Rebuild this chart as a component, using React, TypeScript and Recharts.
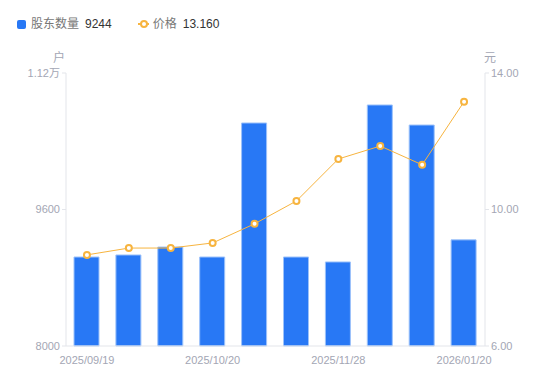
import React from "react";
import {
  ComposedChart,
  Bar,
  Line,
  XAxis,
  YAxis,
} from "recharts";

const dates = [
  "2025/09/19",
  "2025/09/30",
  "2025/10/10",
  "2025/10/20",
  "2025/10/31",
  "2025/11/10",
  "2025/11/28",
  "2025/12/10",
  "2025/12/31",
  "2026/01/20",
];
const holders = [9043, 9067, 9160, 9043, 10614, 9043, 8985, 10825, 10590, 9244];
const prices = [8.67, 8.87, 8.87, 9.02, 9.58, 10.25, 11.48, 11.86, 11.31, 13.16];

const leftTicks = [8000, 9600, 11200];
const rightTicks = [6, 10, 14];

const BLUE = "#2878f5";
const ORANGE = "#f7b43f";
const TICK = "#a3a6b4";
const AXIS = "#e3e5ea";
const FONT = "'Liberation Sans', 'Noto Sans CJK SC', sans-serif";

const data = dates.map((d, i) => ({ date: d, holders: holders[i], price: prices[i] }));

const fmtLeft = (v: number) => (v >= 10000 ? (v / 10000).toFixed(2) + "万" : String(v));

export default function App() {
  const last = data.length - 1;
  return (
    <div
      style={{
        position: "absolute",
        left: 0,
        top: 0,
        width: 550,
        height: 381,
        fontFamily: FONT,
        background: "#fff",
      }}
    >
      {/* legend */}
      <div
        style={{
          position: "absolute",
          top: 15,
          left: 17,
          display: "flex",
          alignItems: "center",
          fontSize: 12,
          lineHeight: "18px",
        }}
      >
        <span style={{ width: 9, height: 9, background: BLUE, borderRadius: 2, marginRight: 5 }} />
        <span style={{ color: "#777" }}>股东数量</span>
        <span style={{ color: "#333", marginLeft: 6 }}>{holders[last]}</span>
        <span style={{ position: "relative", width: 11, height: 10, marginLeft: 26, marginRight: 4 }}>
          <span style={{ position: "absolute", left: 0, top: 4, width: 11, height: 2, background: ORANGE }} />
          <span
            style={{
              position: "absolute",
              left: 2,
              top: 1,
              width: 4,
              height: 4,
              borderRadius: "50%",
              border: `2px solid ${ORANGE}`,
              background: "#fff",
            }}
          />
        </span>
        <span style={{ color: "#777" }}>价格</span>
        <span style={{ color: "#333", marginLeft: 6 }}>{prices[last].toFixed(3)}</span>
      </div>
      {/* unit labels */}
      <div style={{ position: "absolute", left: 53, top: 48, fontSize: 12, color: TICK }}>户</div>
      <div style={{ position: "absolute", left: 484, top: 48, fontSize: 12, color: TICK }}>元</div>

      <ComposedChart
        width={550}
        height={381}
        data={data}
        margin={{ top: 73, right: 0, left: 0, bottom: 0 }}
        barCategoryGap={0}
        style={{ fontFamily: FONT }}
      >
        <XAxis
          dataKey="date"
          interval={2}
          height={35}
          tickLine={false}
          axisLine={{ stroke: AXIS }}
          tick={{ fill: TICK, fontSize: 11, fontFamily: FONT }}
          tickMargin={4}
        />
        <YAxis
          yAxisId="left"
          width={66}
          domain={[8000, 11200]}
          ticks={leftTicks}
          tickFormatter={fmtLeft}
          axisLine={{ stroke: AXIS }}
          tickLine={{ stroke: AXIS }}
          tickSize={4}
          tick={{ fill: TICK, fontSize: 11, fontFamily: FONT }}
        />
        <YAxis
          yAxisId="right"
          orientation="right"
          width={65}
          domain={[6, 14]}
          ticks={rightTicks}
          tickFormatter={(v: number) => v.toFixed(2)}
          axisLine={{ stroke: AXIS }}
          tickLine={{ stroke: AXIS }}
          tickSize={4}
          tick={{ fill: TICK, fontSize: 11, fontFamily: FONT }}
        />
        <Bar
          yAxisId="left"
          dataKey="holders"
          barSize={25}
          fill={BLUE}
          stroke="#9cc2fa"
          strokeWidth={1}
          isAnimationActive={false}
        />
        <Line
          yAxisId="right"
          dataKey="price"
          stroke={ORANGE}
          strokeWidth={1}
          dot={{ r: 3, fill: "#fff", stroke: ORANGE, strokeWidth: 2 }}
          activeDot={false}
          isAnimationActive={false}
        />
      </ComposedChart>
    </div>
  );
}
